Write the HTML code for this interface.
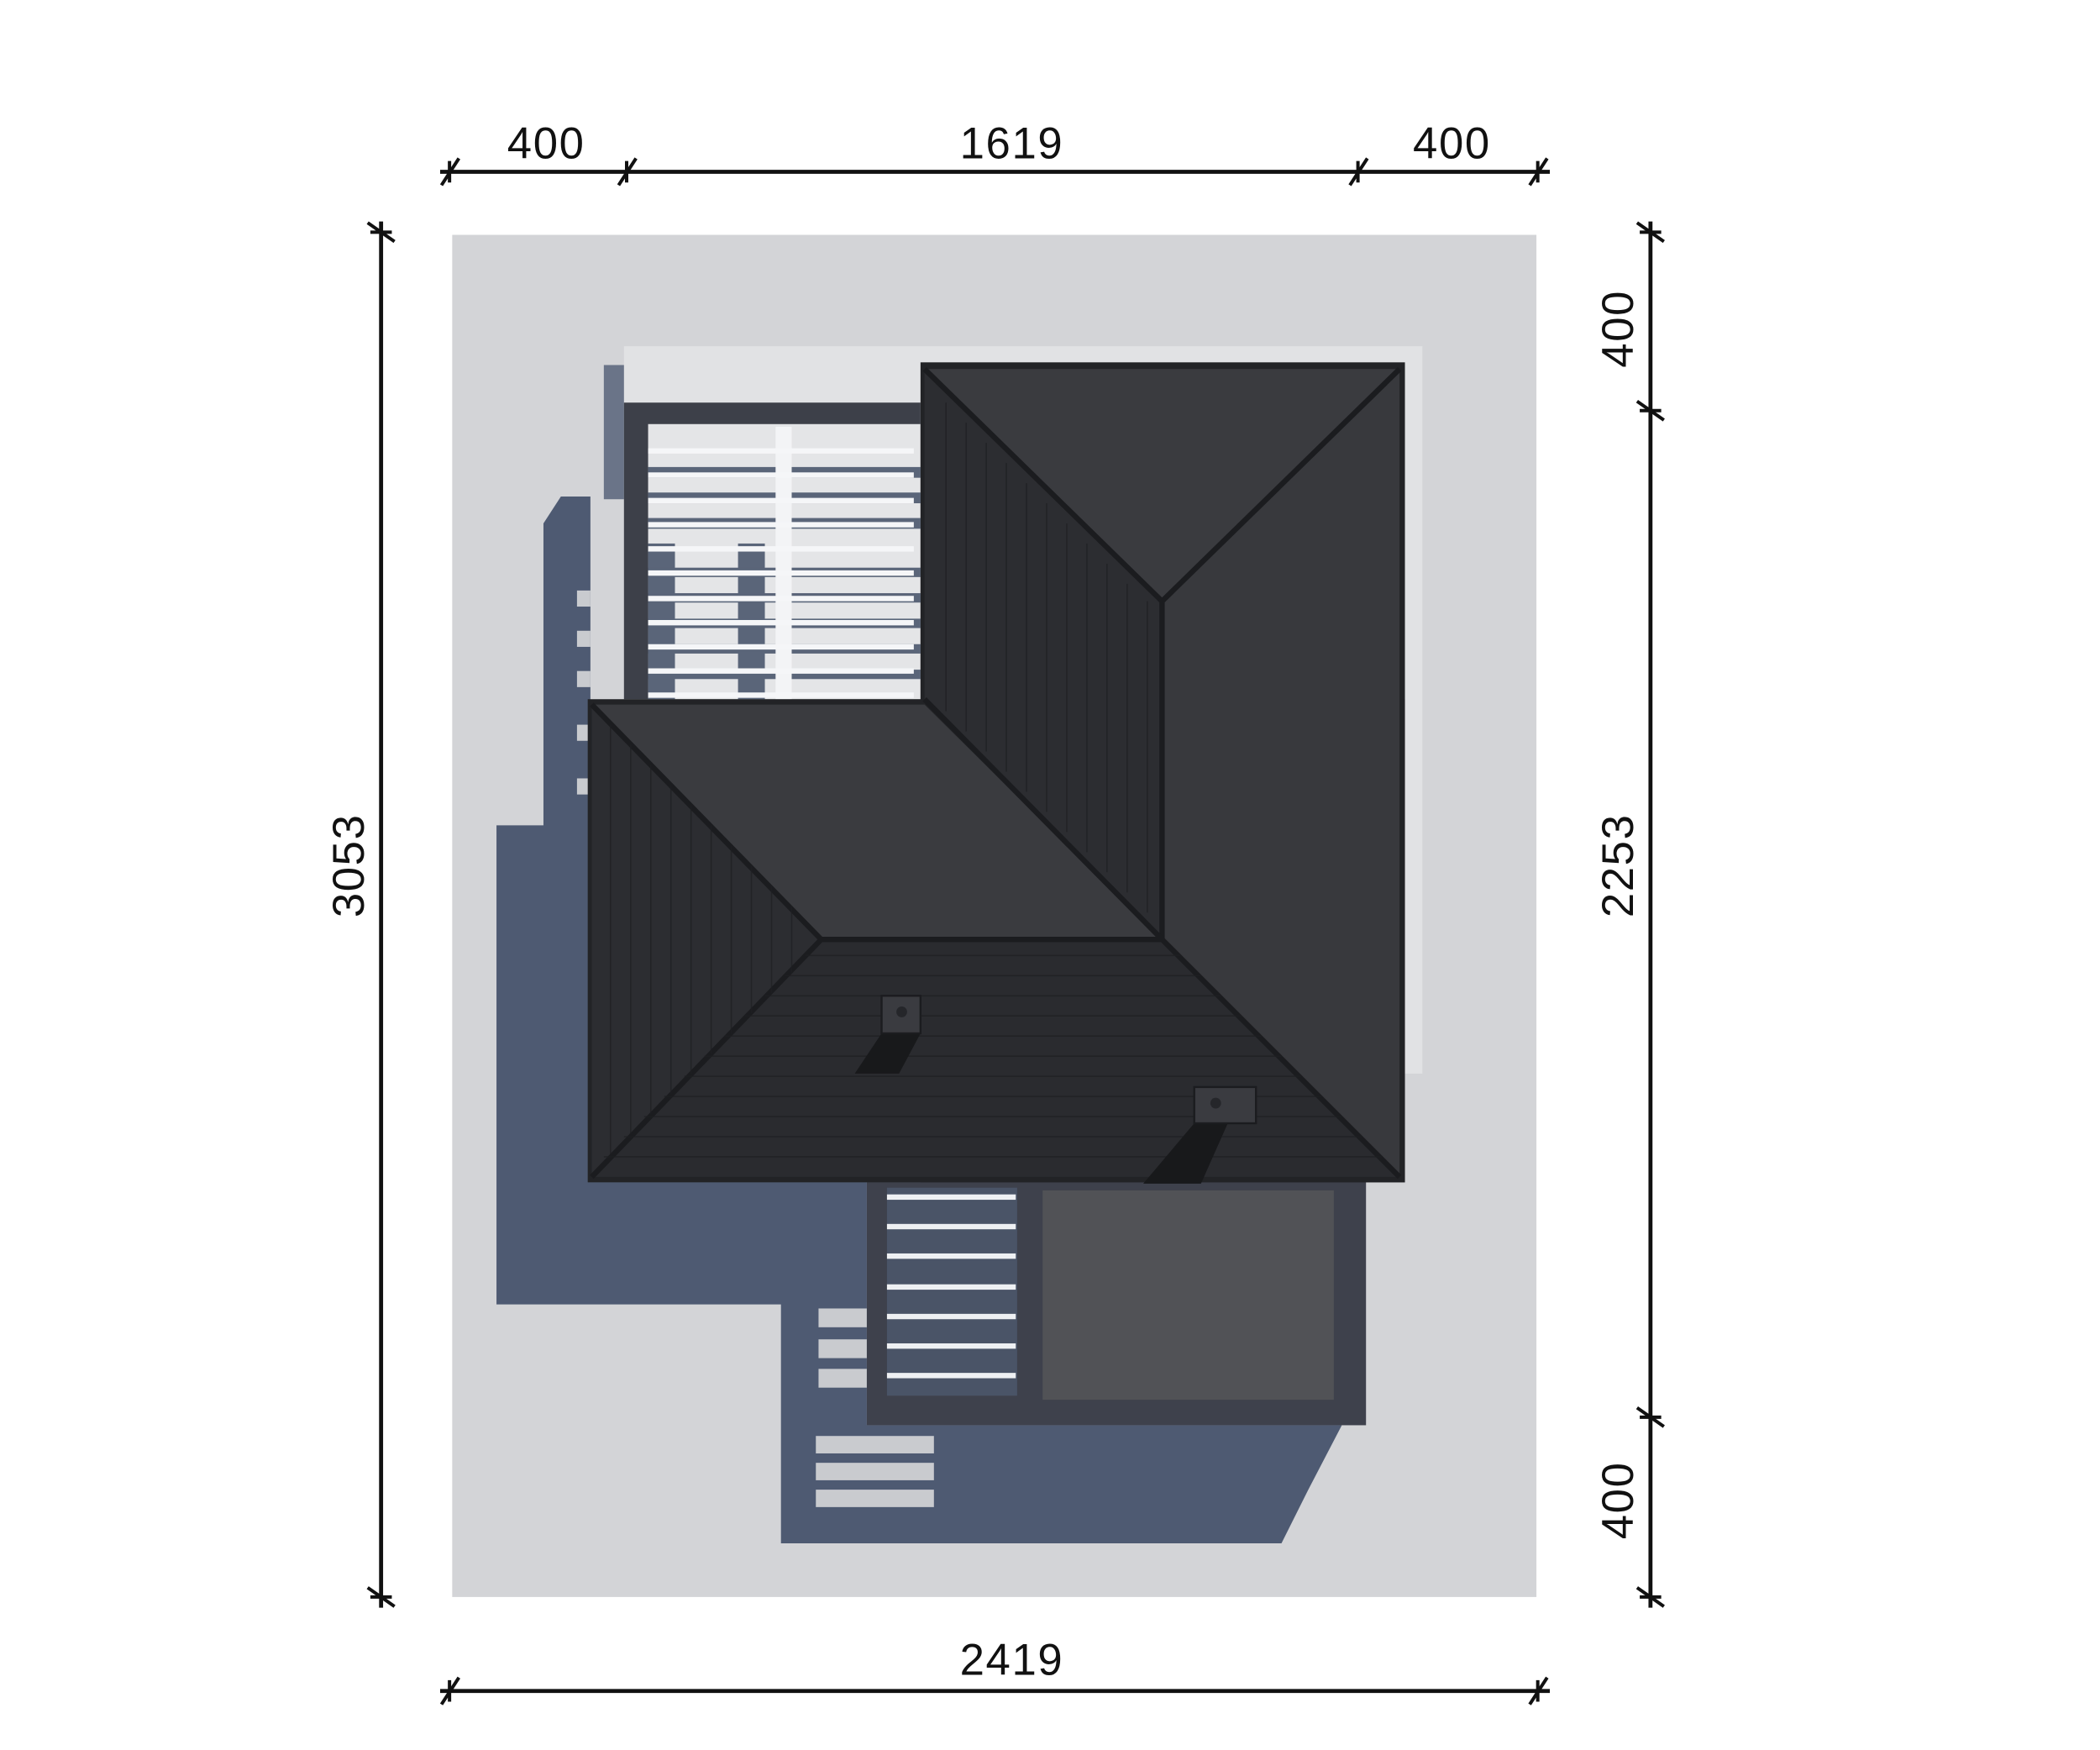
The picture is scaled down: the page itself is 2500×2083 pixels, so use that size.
<!DOCTYPE html>
<html><head><meta charset="utf-8"><style>
html,body{margin:0;padding:0;background:#fff;}
svg{display:block;}
text{font-family:"Liberation Sans",sans-serif;font-size:33px;fill:#111;letter-spacing:1px;}
</style></head><body>
<svg width="2500" height="2083" viewBox="0 0 1565 1304" preserveAspectRatio="none" xmlns="http://www.w3.org/2000/svg">
<rect width="1565" height="1304" fill="#fff"/>
<!-- plot -->
<rect x="337" y="175" width="808" height="1015" fill="#d3d4d7"/>
<!-- shadows -->
<polygon points="440,370 418,370 405,390 405,615 370,615 370,972 582,972 582,1150 955,1150 975,1110 1000,1062 646,1062 646,880 440,880" fill="#4e5a72"/>
<g fill="#c9cbcf">
<rect x="608" y="1070" width="88" height="13"/><rect x="608" y="1090" width="88" height="13"/><rect x="608" y="1110" width="88" height="13"/>
<rect x="610" y="975" width="36" height="14"/><rect x="610" y="998" width="36" height="14"/><rect x="610" y="1020" width="36" height="14"/>
<rect x="430" y="440" width="10" height="12"/><rect x="430" y="470" width="10" height="12"/><rect x="430" y="500" width="10" height="12"/><rect x="430" y="540" width="10" height="12"/><rect x="430" y="580" width="10" height="12"/>
</g>
<!-- terrace -->
<rect x="465" y="258" width="595" height="542" fill="#e1e2e4"/>
<rect x="450" y="272" width="15" height="100" fill="#6a7488"/>
<!-- top pergola -->
<rect x="465" y="300" width="221" height="221" fill="#3d4049"/>
<rect x="483" y="316" width="203" height="205" fill="#e4e5e7"/>
<g fill="#5a6579">
<rect x="483" y="348" width="203" height="8"/><rect x="483" y="367" width="203" height="8"/><rect x="483" y="386" width="203" height="8"/>
<rect x="550" y="405" width="20" height="116"/><rect x="483" y="405" width="20" height="116"/>
<rect x="483" y="423" width="203" height="7"/><rect x="483" y="442" width="203" height="7"/><rect x="483" y="461" width="203" height="7"/><rect x="483" y="480" width="203" height="7"/><rect x="483" y="499" width="203" height="7"/>
</g>
<rect x="578" y="318" width="12" height="203" fill="#f3f4f6"/>
<g fill="#f5f6f8">
<rect x="483" y="334" width="198" height="4"/><rect x="483" y="352" width="198" height="4"/><rect x="483" y="371" width="198" height="4"/><rect x="483" y="389" width="198" height="4"/><rect x="483" y="407" width="198" height="4"/><rect x="483" y="425" width="198" height="4"/><rect x="483" y="444" width="198" height="4"/><rect x="483" y="462" width="198" height="4"/><rect x="483" y="480" width="198" height="4"/><rect x="483" y="498" width="198" height="4"/><rect x="483" y="516" width="198" height="4"/>
</g>
<!-- bottom pergola -->
<rect x="646" y="880" width="372" height="182" fill="#3e414c"/>
<rect x="661" y="885" width="97" height="155" fill="#4a5467"/>
<g fill="#eef0f3"><rect x="661" y="890" width="96" height="4"/><rect x="661" y="912" width="96" height="4"/><rect x="661" y="934" width="96" height="4"/><rect x="661" y="957" width="96" height="4"/><rect x="661" y="979" width="96" height="4"/><rect x="661" y="1001" width="96" height="4"/><rect x="661" y="1023" width="96" height="4"/></g>
<rect x="777" y="887" width="217" height="156" fill="#515256"/>
<!-- roofs -->
<rect x="686" y="270" width="361" height="611" fill="#222326"/>
<rect x="438" y="521" width="609" height="360" fill="#222326"/>
<polygon points="689,275 1043,275 866,448" fill="#3a3b3f"/>
<polygon points="1043,275 1043,877 866,700 866,448" fill="#38393d"/>
<polygon points="689,275 866,448 866,700 689,521" fill="#2c2d31"/>
<polygon points="441,525 689,525 866,700 612,700" fill="#3a3b3f"/>
<polygon points="441,525 612,700 441,877" fill="#2c2d31"/>
<polygon points="612,700 866,700 1043,877 441,877" fill="#2a2b2f"/>
<g stroke="#1b1c1f" stroke-width="4" fill="none">
<path d="M689,275 L866,448 L1043,275 M866,448 L866,700"/>
<path d="M441,525 L612,700 L866,700 L1043,877 M441,877 L612,700 M689,521 L866,700"/>
</g>
<g stroke="#1e1f22" stroke-width="1" opacity="0.7">
<path d="M600,712H880 M585,727H895 M570,742H910 M555,757H925 M540,772H940 M525,787H955 M510,802H970 M495,817H985 M480,832H1000 M465,847H1015 M450,862H1030"/>
<path d="M705,300V530 M720,315V545 M735,330V560 M750,345V575 M765,360V590 M780,375V605 M795,390V620 M810,405V635 M825,420V650 M840,435V665 M855,448V680"/>
<path d="M455,540V860 M470,555V845 M485,570V830 M500,585V815 M515,600V800 M530,615V785 M545,630V770 M560,645V755 M575,660V740 M590,675V725"/>
</g>
<polygon points="657,770 686,770 670,800 637,800" fill="#18191b"/>
<rect x="657" y="742" width="29" height="28" fill="#3a3b40" stroke="#1b1c1f" stroke-width="1.5"/><circle cx="672" cy="754" r="4" fill="#25262a"/>
<polygon points="890,837 915,837 895,882 852,882" fill="#18191b"/>
<rect x="890" y="810" width="46" height="27" fill="#3a3b40" stroke="#1b1c1f" stroke-width="1.5"/><circle cx="906" cy="822" r="4" fill="#25262a"/>
<!-- dimension lines -->
<g stroke="#111" stroke-width="3" fill="none">
<line x1="328" y1="128" x2="1155" y2="128"/>
<line x1="328" y1="1260" x2="1155" y2="1260"/>
<line x1="284" y1="165" x2="284" y2="1198"/>
<line x1="1230" y1="165" x2="1230" y2="1198"/>
</g>
<g stroke="#111" stroke-width="2.5">
<path d="M329,138 L342,118 M461,138 L474,118 M1006,138 L1019,118 M1140,138 L1153,118"/>
<path d="M329,1270 L342,1250 M1140,1270 L1153,1250"/>
<path d="M335,120 V136 M467,120 V136 M1012,120 V136 M1146,120 V136 M335,1252 V1268 M1146,1252 V1268"/>
<path d="M274,166 L294,180 M274,1183 L294,1197 M276,173 H292 M276,1190 H292"/>
<path d="M1220,166 L1240,180 M1220,299 L1240,313 M1220,1049 L1240,1063 M1220,1183 L1240,1197"/>
<path d="M1222,173 H1238 M1222,306 H1238 M1222,1056 H1238 M1222,1190 H1238"/>
</g>
<text x="407" y="118" text-anchor="middle">400</text>
<text x="754" y="118" text-anchor="middle">1619</text>
<text x="1082" y="118" text-anchor="middle">400</text>
<text x="754" y="1248" text-anchor="middle">2419</text>
<text transform="translate(271,645) rotate(-90)" text-anchor="middle">3053</text>
<text transform="translate(1217,645) rotate(-90)" text-anchor="middle">2253</text>
<text transform="translate(1217,245) rotate(-90)" text-anchor="middle">400</text>
<text transform="translate(1217,1118) rotate(-90)" text-anchor="middle">400</text>
</svg>
</body></html>
